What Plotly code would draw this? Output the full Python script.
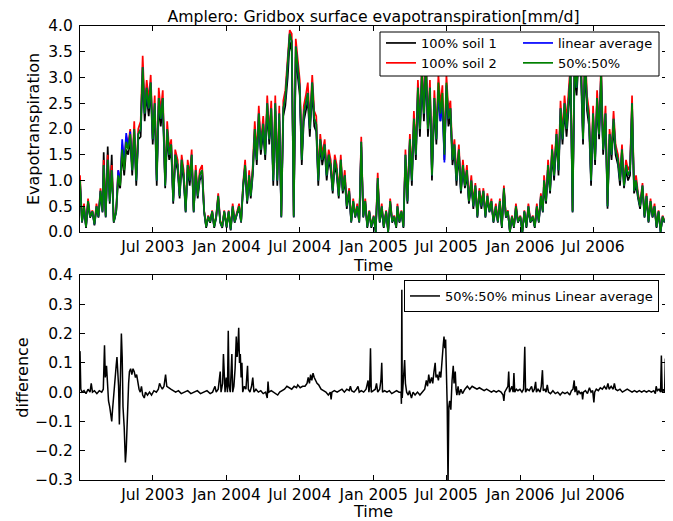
import pandas as pd
import plotly.graph_objects as go

title_text = "Amplero: Gridbox surface evapotranspiration[mm/d]"
years = [2003, 2004, 2005, 2006]
sample_days = [1, 6, 11, 16, 21, 26]   # days of each month at which values were read

# ---- top panel: evapotranspiration [mm/d], 6 readings per month, Jan 2003 .. Dec 2006
mix5050 = [
    # 2003
    1.0, 0.2, 0.5, 0.1, 0.6, 0.3,
    0.4, 0.15, 0.5, 0.3, 0.8, 0.4,
    1.3, 0.3, 1.4, 0.6, 1.2, 0.2,
    0.4, 1.1, 0.9, 1.6, 1.2, 1.75,
    1.6, 1.9, 1.2, 2.0, 1.0, 1.9,
    2.0, 3.2, 2.3, 2.8, 2.4, 2.9,
    1.8, 2.5, 1.0, 2.6, 2.2, 2.6,
    0.9, 2.0, 1.5, 1.7, 0.6, 1.5,
    1.3, 0.7, 1.4, 1.1, 0.4, 1.3,
    1.0, 1.5, 0.4, 1.2, 0.7, 1.1,
    1.2, 0.4, 0.1, 0.3, 0.2, 0.4,
    0.1, 0.3, 0.7, 0.2, 0.1, 0.4,
    # 2004
    0.1, 0.4, 0.05, 0.5, 0.2, 0.35,
    0.5, 0.2, 0.9, 1.3, 0.6, 1.1,
    0.7, 1.2, 2.0, 1.4, 2.3, 1.6,
    2.1, 1.5, 2.5, 1.8, 2.4, 1.0,
    2.5, 1.0, 2.3, 0.3, 2.4, 2.6,
    3.2, 3.85, 3.7, 0.3, 3.6, 3.2,
    2.8, 1.4, 2.3, 2.5, 2.7, 2.0,
    2.9, 2.2, 2.1, 1.0, 1.8, 1.4,
    1.7, 1.1, 1.5, 1.3, 0.8, 1.4,
    1.2, 0.7, 1.4, 0.8, 1.1, 0.5,
    0.8, 0.2, 0.6, 0.3, 0.5, 0.2,
    1.75, 0.3, 0.6, 0.1, 0.4, 0.1,
    # 2005
    0.3, 0.0, 1.05, 0.2, 0.5, 0.1,
    0.4, 0.0, 0.6, 0.2, 0.3, 0.1,
    0.5, 0.2, 0.4, 0.1, 1.5, 0.6,
    1.8, 1.0, 2.2, 1.5, 2.8, 2.0,
    3.1, 2.3, 3.3, 2.0, 2.8, 1.1,
    2.6, 1.8, 2.9, 2.3, 2.7, 1.5,
    2.9, 2.2, 2.4, 1.4, 1.7, 1.0,
    1.6, 0.8, 1.3, 0.9, 1.2, 0.6,
    1.0, 0.5, 0.9, 0.3, 0.8, 0.5,
    0.8, 0.3, 0.7, 0.4, 0.6, 0.2,
    0.5, 0.2, 0.6, 0.1, 0.85, 0.3,
    0.4, 0.0, 0.3, 0.1, 0.5, 0.2,
    # 2006
    0.3, 0.0, 0.4, 0.1, 0.5, 0.2,
    0.3, 0.1, 0.5, 0.2, 0.7, 0.4,
    1.0, 0.6, 1.3, 0.8, 1.6, 1.1,
    1.9, 1.2, 2.4, 1.8, 2.5, 2.0,
    2.6, 3.1, 0.4, 3.3, 2.8, 3.5,
    3.2, 1.8, 3.4, 2.5, 2.2, 1.0,
    2.3, 1.4, 2.6, 1.9, 3.1, 1.6,
    2.3, 0.5, 1.9, 1.5, 2.2, 1.6,
    1.4, 1.0, 1.6, 0.9, 1.3, 1.1,
    1.2, 2.5, 0.8, 1.0, 0.7, 0.5,
    0.9, 0.3, 0.7, 0.2, 0.6, 0.3,
    0.5, 0.1, 0.4, 0.0, 0.3, 0.2,
]

soil2 = [
    # 2003
    1.1, 0.22, 0.55, 0.12, 0.65, 0.32,
    0.42, 0.17, 0.55, 0.32, 0.85, 0.42,
    1.4, 0.32, 1.5, 0.65, 1.3, 0.22,
    0.42, 1.2, 0.95, 1.7, 1.3, 1.85,
    1.7, 2.0, 1.3, 2.15, 1.1, 2.0,
    2.15, 3.42, 2.45, 2.95, 2.55, 3.05,
    1.9, 2.65, 1.1, 2.8, 2.35, 2.75,
    0.95, 2.15, 1.6, 1.8, 0.65, 1.6,
    1.4, 0.75, 1.5, 1.2, 0.42, 1.4,
    1.1, 1.6, 0.42, 1.3, 0.75, 1.2,
    1.3, 0.42, 0.12, 0.32, 0.22, 0.42,
    0.12, 0.32, 0.75, 0.22, 0.12, 0.42,
    # 2004
    0.12, 0.42, 0.07, 0.55, 0.22, 0.37,
    0.55, 0.22, 0.95, 1.4, 0.65, 1.2,
    0.75, 1.3, 2.15, 1.5, 2.45, 1.7,
    2.25, 1.6, 2.65, 1.9, 2.55, 1.1,
    2.65, 1.1, 2.45, 0.32, 2.55, 2.75,
    3.4, 3.92, 3.85, 0.32, 3.75, 3.4,
    2.95, 1.5, 2.45, 2.65, 2.9, 2.15,
    3.05, 2.35, 2.25, 1.1, 1.9, 1.5,
    1.8, 1.2, 1.6, 1.4, 0.85, 1.5,
    1.3, 0.75, 1.5, 0.85, 1.2, 0.55,
    0.85, 0.22, 0.65, 0.32, 0.55, 0.22,
    1.85, 0.32, 0.65, 0.12, 0.42, 0.12,
    # 2005
    0.32, 0.02, 1.15, 0.22, 0.55, 0.12,
    0.42, 0.02, 0.65, 0.22, 0.32, 0.12,
    0.55, 0.22, 0.42, 0.12, 1.6, 0.65,
    1.9, 1.1, 2.35, 1.6, 2.95, 2.15,
    3.3, 2.45, 3.5, 2.15, 2.95, 1.2,
    2.75, 1.9, 3.05, 2.45, 2.85, 1.6,
    3.05, 2.35, 2.55, 1.5, 1.8, 1.1,
    1.7, 0.85, 1.4, 0.95, 1.3, 0.65,
    1.1, 0.55, 0.95, 0.32, 0.85, 0.55,
    0.85, 0.32, 0.75, 0.42, 0.65, 0.22,
    0.55, 0.22, 0.65, 0.12, 0.9, 0.32,
    0.42, 0.02, 0.32, 0.12, 0.55, 0.22,
    # 2006
    0.32, 0.02, 0.42, 0.12, 0.55, 0.22,
    0.32, 0.12, 0.55, 0.22, 0.75, 0.42,
    1.1, 0.65, 1.4, 0.85, 1.7, 1.2,
    2.0, 1.3, 2.55, 1.9, 2.65, 2.15,
    2.75, 3.3, 0.42, 3.5, 2.95, 3.7,
    3.4, 1.9, 3.6, 2.65, 2.35, 1.1,
    2.45, 1.5, 2.75, 2.0, 3.3, 1.7,
    2.45, 0.55, 2.0, 1.6, 2.35, 1.7,
    1.5, 1.1, 1.7, 0.95, 1.4, 1.2,
    1.3, 2.65, 0.85, 1.1, 0.75, 0.55,
    0.95, 0.32, 0.75, 0.22, 0.65, 0.32,
    0.55, 0.12, 0.42, 0.02, 0.32, 0.22,
]

soil1 = [
    # 2003
    0.9, 0.18, 0.45, 0.08, 0.55, 0.28,
    0.38, 0.13, 0.45, 0.28, 0.75, 0.38,
    1.55, 0.28, 1.66, 0.55, 1.5, 0.18,
    0.38, 1.0, 0.85, 1.5, 1.1, 1.6,
    1.5, 1.8, 1.1, 1.85, 0.9, 1.8,
    1.85, 3.0, 2.15, 2.65, 2.25, 2.75,
    1.7, 2.35, 0.9, 2.45, 2.05, 2.45,
    0.85, 1.85, 1.4, 1.6, 0.55, 1.4,
    1.2, 0.65, 1.3, 1.0, 0.38, 1.2,
    0.9, 1.4, 0.38, 1.1, 0.65, 1.0,
    1.1, 0.38, 0.08, 0.28, 0.18, 0.38,
    0.08, 0.28, 0.65, 0.18, 0.08, 0.38,
    # 2004
    0.08, 0.38, 0.03, 0.45, 0.18, 0.33,
    0.45, 0.18, 0.85, 1.2, 0.55, 1.0,
    0.65, 1.1, 1.85, 1.3, 2.15, 1.5,
    1.95, 1.4, 2.35, 1.7, 2.25, 0.9,
    2.35, 0.9, 2.15, 0.28, 2.25, 2.45,
    3.0, 3.7, 3.5, 0.28, 3.4, 3.0,
    2.65, 1.3, 2.15, 2.35, 2.55, 1.85,
    2.75, 2.05, 1.95, 0.9, 1.7, 1.3,
    1.6, 1.0, 1.4, 1.2, 0.75, 1.3,
    1.1, 0.65, 1.3, 0.75, 1.0, 0.45,
    0.75, 0.18, 0.55, 0.28, 0.45, 0.18,
    1.65, 0.28, 0.55, 0.08, 0.38, 0.08,
    # 2005
    0.28, 0.0, 0.95, 0.18, 0.45, 0.08,
    0.38, 0.0, 0.55, 0.18, 0.28, 0.08,
    0.45, 0.18, 0.38, 0.08, 1.4, 0.55,
    1.7, 0.9, 2.05, 1.4, 2.65, 1.85,
    2.9, 2.15, 3.1, 1.85, 2.65, 1.0,
    2.45, 1.7, 2.75, 2.15, 2.55, 1.4,
    2.75, 2.05, 2.25, 1.3, 1.6, 0.9,
    1.5, 0.75, 1.2, 0.85, 1.1, 0.55,
    0.9, 0.45, 0.85, 0.28, 0.75, 0.45,
    0.75, 0.28, 0.65, 0.38, 0.55, 0.18,
    0.45, 0.18, 0.55, 0.08, 0.8, 0.28,
    0.38, 0.0, 0.28, 0.08, 0.45, 0.18,
    # 2006
    0.28, 0.0, 0.38, 0.08, 0.45, 0.18,
    0.28, 0.08, 0.45, 0.18, 0.65, 0.38,
    0.9, 0.55, 1.2, 0.75, 1.5, 1.0,
    1.8, 1.1, 2.25, 1.7, 2.35, 1.85,
    2.45, 2.9, 0.38, 3.1, 2.65, 3.3,
    3.0, 1.7, 3.2, 2.35, 2.05, 0.9,
    2.15, 1.3, 2.45, 1.8, 2.9, 1.5,
    2.15, 0.45, 1.8, 1.4, 2.05, 1.5,
    1.3, 0.9, 1.5, 0.85, 1.2, 1.0,
    1.1, 2.35, 0.75, 0.9, 0.65, 0.45,
    0.85, 0.28, 0.65, 0.18, 0.55, 0.28,
    0.45, 0.08, 0.38, 0.0, 0.28, 0.18,
]

linear_avg = [
    # 2003
    1.0, 0.2, 0.5, 0.1, 0.6, 0.3,
    0.4, 0.15, 0.5, 0.3, 0.8, 0.4,
    1.3, 0.3, 1.4, 0.6, 1.2, 0.2,
    0.4, 1.2, 0.95, 1.8, 1.35, 1.92,
    1.65, 1.95, 1.2, 2.0, 1.0, 1.9,
    2.0, 3.2, 2.3, 2.8, 2.4, 2.9,
    1.8, 2.5, 1.0, 2.6, 2.2, 2.6,
    0.9, 2.0, 1.5, 1.7, 0.6, 1.5,
    1.3, 0.7, 1.4, 1.1, 0.4, 1.3,
    1.0, 1.5, 0.4, 1.2, 0.7, 1.1,
    1.2, 0.4, 0.1, 0.3, 0.2, 0.4,
    0.1, 0.3, 0.7, 0.2, 0.1, 0.4,
    # 2004
    0.1, 0.4, 0.05, 0.5, 0.2, 0.35,
    0.5, 0.2, 0.9, 1.3, 0.6, 1.1,
    0.7, 1.2, 2.0, 1.4, 2.3, 1.6,
    2.1, 1.5, 2.5, 1.8, 2.4, 1.0,
    2.5, 1.0, 2.3, 0.3, 2.4, 2.6,
    3.2, 3.85, 3.7, 0.3, 3.6, 3.2,
    2.8, 1.4, 2.3, 2.5, 2.7, 2.0,
    2.9, 2.2, 2.1, 1.0, 1.8, 1.4,
    1.7, 1.1, 1.5, 1.3, 0.8, 1.4,
    1.2, 0.7, 1.4, 0.8, 1.1, 0.5,
    0.8, 0.2, 0.6, 0.3, 0.5, 0.2,
    1.75, 0.3, 0.6, 0.1, 0.4, 0.1,
    # 2005
    0.3, 0.0, 1.05, 0.2, 0.5, 0.1,
    0.4, 0.0, 0.6, 0.2, 0.3, 0.1,
    0.5, 0.2, 0.4, 0.1, 1.5, 0.6,
    1.8, 1.0, 2.2, 1.5, 2.8, 2.0,
    3.1, 2.3, 3.3, 2.0, 2.8, 1.1,
    2.6, 1.8, 2.75, 2.15, 2.5, 1.35,
    2.85, 2.2, 2.4, 1.4, 1.7, 1.0,
    1.6, 0.8, 1.3, 0.9, 1.2, 0.6,
    1.0, 0.5, 0.9, 0.3, 0.8, 0.5,
    0.8, 0.3, 0.7, 0.4, 0.6, 0.2,
    0.5, 0.2, 0.6, 0.1, 0.85, 0.3,
    0.4, 0.0, 0.3, 0.1, 0.5, 0.2,
    # 2006
    0.3, 0.0, 0.4, 0.1, 0.5, 0.2,
    0.3, 0.1, 0.5, 0.2, 0.7, 0.4,
    1.0, 0.6, 1.3, 0.8, 1.6, 1.1,
    1.9, 1.2, 2.4, 1.8, 2.5, 2.0,
    2.6, 3.1, 0.4, 3.3, 2.8, 3.5,
    3.2, 1.8, 3.4, 2.5, 2.2, 1.0,
    2.3, 1.4, 2.6, 1.9, 3.1, 1.6,
    2.3, 0.5, 1.9, 1.5, 2.2, 1.6,
    1.4, 1.0, 1.6, 0.9, 1.3, 1.1,
    1.2, 2.5, 0.8, 1.0, 0.7, 0.5,
    0.9, 0.3, 0.7, 0.2, 0.6, 0.3,
    0.5, 0.1, 0.4, 0.0, 0.3, 0.2,
]

# ---- bottom panel: 50%:50% minus linear average (day offset from 2003-01-01, value)
diff_day = [
    0, 2, 5, 10, 15, 20, 25, 28, 31, 36, 42, 48, 54, 58, 61, 63, 66, 68, 71, 74,
    77, 79, 81, 84, 87, 90, 92, 94, 96, 98, 100, 103, 105, 107, 110, 113, 115, 117, 119, 121,
    123, 126, 129, 132, 135, 138, 141, 144, 147, 150, 153, 156, 160, 163, 168, 173, 178, 184, 190, 195,
    198, 201, 205, 209, 213, 216, 220, 226, 232, 238, 245, 252, 260, 268, 276, 284, 292, 300, 308, 316,
    324, 330, 336, 339, 344, 349, 351, 355, 357, 359, 361, 364, 367, 369, 371, 374, 376, 378, 380, 383,
    386, 389, 391, 393, 395, 397, 399, 401, 403, 405, 409, 413, 417, 419, 423, 427, 430, 433, 438, 444,
    450, 456, 462, 466, 468, 470, 476, 482, 488, 492, 497, 503, 509, 515, 521, 527, 533, 539, 542, 548,
    554, 560, 565, 568, 571, 574, 577, 580, 583, 586, 590, 594, 600, 606, 612, 618, 623, 625, 627, 633,
    640, 646, 652, 658, 664, 670, 673, 676, 682, 688, 692, 695, 700, 706, 712, 717, 719, 721, 723, 725,
    730, 735, 738, 741, 746, 749, 751, 753, 758, 764, 770, 776, 782, 788, 794, 799, 800, 801, 802, 804,
    806, 808, 810, 813, 817, 820, 825, 829, 834, 840, 846, 852, 858, 862, 865, 868, 871, 875, 878, 881,
    884, 886, 889, 892, 895, 898, 901, 904, 906, 908, 910, 912, 914, 916, 918, 920, 923, 926, 929, 931,
    934, 936, 938, 941, 944, 948, 952, 958, 964, 970, 976, 982, 988, 994, 1000, 1006, 1012, 1018, 1024, 1030,
    1036, 1042, 1048, 1053, 1055, 1057, 1062, 1065, 1067, 1069, 1072, 1075, 1078, 1080, 1082, 1086, 1090, 1095, 1100, 1104,
    1107, 1109, 1113, 1118, 1124, 1127, 1131, 1134, 1136, 1140, 1145, 1148, 1151, 1153, 1157, 1160, 1163, 1166, 1171, 1177,
    1183, 1189, 1195, 1201, 1207, 1213, 1219, 1223, 1227, 1230, 1232, 1235, 1238, 1241, 1245, 1249, 1251, 1253, 1258, 1263,
    1268, 1272, 1276, 1279, 1281, 1285, 1290, 1295, 1300, 1305, 1310, 1314, 1317, 1322, 1327, 1330, 1333, 1338, 1344, 1350,
    1356, 1362, 1368, 1374, 1380, 1386, 1392, 1398, 1404, 1410, 1416, 1422, 1428, 1432, 1434, 1437, 1441, 1445, 1447, 1449,
    1452, 1455, 1457, 1459, 1460,
]
diff_val = [
    0.14, 0.01, 0.0, 0.005, -0.005, 0.01, 0.0, 0.03, 0.0, 0.005, -0.005, 0.005, 0.0, 0.01, 0.16, 0.05, 0.09, 0.02, -0.03, -0.05,
    -0.08, -0.10, -0.06, 0.0, 0.05, 0.09, 0.12, 0.08, 0.02, -0.11, 0.05, 0.20, 0.12, -0.05, -0.12, -0.24, -0.20, -0.10, -0.04, 0.03,
    0.07, 0.08, 0.06, 0.08, 0.07, 0.05, 0.06, 0.03, 0.01, 0.0, 0.02, -0.01, -0.02, 0.0, -0.01, 0.0, -0.01, 0.005, 0.0, 0.01,
    0.03, 0.02, 0.01, 0.02, 0.06, 0.02, 0.015, 0.01, 0.005, 0.0, 0.005, -0.005, 0.0, 0.005, -0.005, 0.0, 0.005, -0.005, 0.0, 0.005,
    -0.005, 0.0, 0.02, 0.0, 0.01, 0.07, 0.0, 0.03, 0.13, 0.01, 0.0, 0.05, 0.0, 0.21, 0.02, 0.0, 0.05, 0.13, 0.0, 0.02,
    0.08, 0.19, 0.12, 0.15, 0.22, 0.10, 0.13, 0.05, 0.10, 0.0, 0.02, 0.01, 0.09, 0.01, 0.0, 0.02, 0.05, 0.0, 0.01, 0.0,
    0.005, -0.005, 0.0, -0.02, 0.036, 0.0, 0.005, 0.0, -0.005, -0.01, 0.0, 0.005, 0.01, 0.02, 0.015, 0.01, 0.02, 0.015, 0.025, 0.015,
    0.02, 0.02, 0.03, 0.05, 0.03, 0.06, 0.04, 0.065, 0.05, 0.04, 0.03, 0.025, 0.01, 0.005, 0.0, -0.01, 0.0, -0.025, 0.0, 0.005,
    0.0, 0.005, 0.01, 0.0, 0.01, 0.005, 0.02, 0.005, 0.0, 0.01, 0.02, 0.0, 0.005, 0.0, 0.01, 0.04, 0.0, 0.02, 0.15, 0.0,
    0.005, 0.01, 0.03, 0.0, 0.01, 0.04, 0.10, 0.0, 0.005, 0.0, 0.005, -0.005, 0.0, 0.005, 0.0, 0.0, -0.04, 0.35, -0.02, 0.02,
    0.06, 0.11, 0.03, 0.0, -0.01, 0.005, -0.02, 0.0, -0.01, 0.0, -0.01, 0.0, 0.01, 0.04, 0.02, 0.06, 0.03, 0.05, 0.03, 0.07,
    0.10, 0.05, 0.06, 0.04, 0.07, 0.05, 0.12, 0.16, 0.19, 0.15, 0.18, 0.06, -0.05, -0.32, -0.05, -0.03, -0.06, 0.04, 0.09, 0.03,
    0.07, 0.01, -0.01, 0.02, -0.01, 0.01, -0.005, 0.01, 0.02, 0.01, 0.02, 0.015, 0.01, 0.015, 0.01, 0.005, 0.01, 0.005, 0.0, 0.005,
    0.0, 0.005, 0.0, -0.01, -0.03, 0.0, 0.01, 0.02, 0.07, 0.0, 0.01, 0.02, 0.0, 0.065, 0.0, 0.01, 0.005, 0.01, 0.0, 0.01,
    0.155, 0.0, 0.01, 0.005, 0.02, 0.0, 0.01, 0.035, 0.0, 0.01, 0.0, 0.02, 0.075, 0.005, 0.01, 0.0, 0.025, 0.0, -0.005, 0.005,
    -0.005, 0.0, -0.01, 0.0, -0.005, 0.0, -0.01, 0.005, 0.01, 0.04, 0.0, 0.02, -0.01, 0.005, -0.005, 0.0, -0.025, 0.0, 0.005, -0.005,
    0.015, 0.0, 0.005, -0.035, 0.0, 0.01, 0.005, 0.015, 0.01, 0.02, 0.01, 0.03, 0.01, 0.02, 0.01, 0.03, 0.01, 0.005, 0.01, 0.0,
    0.005, 0.01, 0.005, 0.0, 0.005, 0.0, 0.005, 0.0, 0.005, 0.0, 0.005, 0.0, 0.005, -0.005, 0.02, 0.005, 0.01, 0.0, 0.125, 0.0,
    0.01, 0.0, 0.115, 0.02, 0.01,
]

x_tick_dates = ["2003-07-01", "2004-01-01", "2004-07-01", "2005-01-01",
                "2005-07-01", "2006-01-01", "2006-07-01"]
x_tick_text = ["Jul 2003", "Jan 2004", "Jul 2004", "Jan 2005",
               "Jul 2005", "Jan 2006", "Jul 2006"]
top_y_ticks = [0.0, 0.5, 1.0, 1.5, 2.0, 2.5, 3.0, 3.5, 4.0]
bot_y_ticks = [-0.3, -0.2, -0.1, 0.0, 0.1, 0.2, 0.3, 0.4]

dates = [pd.Timestamp(y, m, d) for y in years for m in range(1, 13) for d in sample_days]
diff_dates = pd.Timestamp("2003-01-01") + pd.to_timedelta(diff_day, unit="D")

FONT = "DejaVu Sans"
TICK_SIZE = 15.5
LABEL_SIZE = 16
TITLE_SIZE = 15.7
LEG_SIZE = 13

fig = go.Figure()
lw = 1.7
fig.add_trace(go.Scatter(x=dates, y=soil1, mode="lines", name="100% soil 1",
                         line=dict(color="#000000", width=lw), legend="legend"))
fig.add_trace(go.Scatter(x=dates, y=soil2, mode="lines", name="100% soil 2",
                         line=dict(color="#ff0000", width=lw), legend="legend"))
fig.add_trace(go.Scatter(x=dates, y=linear_avg, mode="lines", name="linear average",
                         line=dict(color="#0000ff", width=lw), legend="legend2"))
fig.add_trace(go.Scatter(x=dates, y=mix5050, mode="lines", name="50%:50%",
                         line=dict(color="#008000", width=lw), legend="legend2"))
fig.add_trace(go.Scatter(x=diff_dates, y=diff_val, mode="lines",
                         name="50%:50% minus Linear average",
                         line=dict(color="#000000", width=1.5), legend="legend3",
                         xaxis="x2", yaxis="y2"))

# the page body adds an 8px offset; the figure is sized/margined to compensate
OFF = 8
SW, SH = 673, 521                      # screen size
PL, PR, PT, PB = 80, 667, 26, 480      # plot area in screen pixels
W, H = SW - OFF, SH - OFF
ML, MT = PL - OFF, PT - OFF
MR, MB = W - (PR - OFF), H - (PB - OFF)
PW, PH = PR - PL, PB - PT

def px_x(px):
    return (px - PL) / PW

def px_y(py):
    return (PB - py) / PH

axis_common = dict(showline=True, linecolor="black", linewidth=1, mirror="ticks",
                   ticks="inside", ticklen=5, tickcolor="black", tickwidth=1,
                   showgrid=False, zeroline=False,
                   tickfont=dict(family=FONT, size=TICK_SIZE, color="black"))

fig.update_layout(
    width=W, height=H,
    margin=dict(l=ML, r=MR, t=MT, b=MB, autoexpand=False),
    paper_bgcolor="white", plot_bgcolor="white",
    font=dict(family=FONT, size=TICK_SIZE, color="black"),
    title=dict(text=title_text, x=0.5, xref="paper", xanchor="center",
               y=1 - (16 - OFF) / H, yanchor="middle",
               font=dict(family=FONT, size=TITLE_SIZE)),
    xaxis=dict(axis_common, domain=[0, 1], anchor="y",
               range=["2003-01-01", "2007-01-01"],
               tickmode="array", tickvals=x_tick_dates, ticktext=x_tick_text,
               ticklabelstandoff=0,
               title=dict(text="Time", standoff=3, font=dict(family=FONT, size=LABEL_SIZE))),
    yaxis=dict(axis_common, domain=[px_y(232), 1], anchor="x", range=[0, 4],
               tickmode="array", tickvals=top_y_ticks,
               ticktext=[f"{v:.1f}" for v in top_y_ticks], ticklabelstandoff=3,
               title=dict(text="Evapotranspiration", standoff=4,
                          font=dict(family=FONT, size=LABEL_SIZE))),
    xaxis2=dict(axis_common, domain=[0, 1], anchor="y2",
                range=["2003-01-01", "2007-01-01"],
                tickmode="array", tickvals=x_tick_dates, ticktext=x_tick_text,
                ticklabelstandoff=0,
                title=dict(text="Time", standoff=5, font=dict(family=FONT, size=LABEL_SIZE))),
    yaxis2=dict(axis_common, domain=[0, px_y(275)], anchor="x2", range=[-0.3, 0.4],
                tickmode="array", tickvals=bot_y_ticks, ticklabelstandoff=3,
                ticktext=[f"{v:.1f}".replace("-", "\u2212") for v in bot_y_ticks],
                title=dict(text="difference", standoff=2,
                           font=dict(family=FONT, size=LABEL_SIZE))),
    legend=dict(x=px_x(381), y=px_y(28), xanchor="left", yanchor="top",
                bgcolor="rgba(0,0,0,0)", borderwidth=0, tracegroupgap=0,
                font=dict(family=FONT, size=LEG_SIZE, color="black")),
    legend2=dict(x=px_x(518), y=px_y(28), xanchor="left", yanchor="top",
                 bgcolor="rgba(0,0,0,0)", borderwidth=0, tracegroupgap=0,
                 font=dict(family=FONT, size=LEG_SIZE, color="black")),
    legend3=dict(x=px_x(404), y=px_y(280), xanchor="left", yanchor="top",
                 bgcolor="white", bordercolor="black", borderwidth=1,
                 font=dict(family=FONT, size=LEG_SIZE, color="black")),
    shapes=[dict(type="rect", xref="paper", yref="paper",
                 x0=px_x(380), x1=px_x(659), y0=px_y(76), y1=px_y(32),
                 fillcolor="white", line=dict(color="black", width=1), layer="above")],
    showlegend=True,
)

fig.write_html("out.html")
